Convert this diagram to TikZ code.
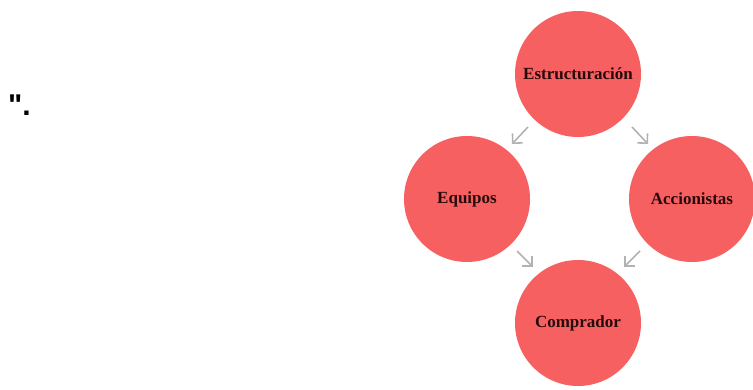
\documentclass[tikz,border=0pt]{standalone}
\usepackage{fontspec}
\setmainfont{Liberation Serif}
\newfontfamily\quotefont{Liberation Sans}
\usetikzlibrary{arrows.meta}
\definecolor{bubble}{RGB}{246,96,96}
\definecolor{inktext}{RGB}{40,10,12}
\definecolor{flow}{RGB}{178,178,178}
\tikzset{
  bubble/.style={circle, fill=bubble, minimum size=126pt, inner sep=0pt,
    font=\fontsize{17}{19}\selectfont\bfseries, text=inktext},
  flowarrow/.style={draw=flow, line width=1.6pt, -{Straight Barb[length=7pt,width=14pt]}}
}
\begin{document}
\begin{tikzpicture}[x=1pt,y=-1pt]
\useasboundingbox (0,0) rectangle (753,390);
\node[font=\quotefont\bfseries\fontsize{30}{30}\selectfont, anchor=base west, inner sep=0pt] (mark) at (8,116) {".};
\node[bubble] (top) at (578,74) {Estructuración};
\node[bubble] (left) at (467,199) {Equipos};
\node[bubble] (right) at (692,199) {Accionistas};
\node[bubble] (bottom) at (578,323) {Comprador};
\coordinate (a1s) at (528,127); \coordinate (a1e) at (512,144);
\coordinate (a2s) at (632,127); \coordinate (a2e) at (648,144);
\coordinate (a3s) at (517,251); \coordinate (a3e) at (533,267);
\coordinate (a4s) at (640,251); \coordinate (a4e) at (624,267);
\draw[flowarrow] (a1s) -- (a1e);
\draw[flowarrow] (a2s) -- (a2e);
\draw[flowarrow] (a3s) -- (a3e);
\draw[flowarrow] (a4s) -- (a4e);
\end{tikzpicture}
\end{document}
